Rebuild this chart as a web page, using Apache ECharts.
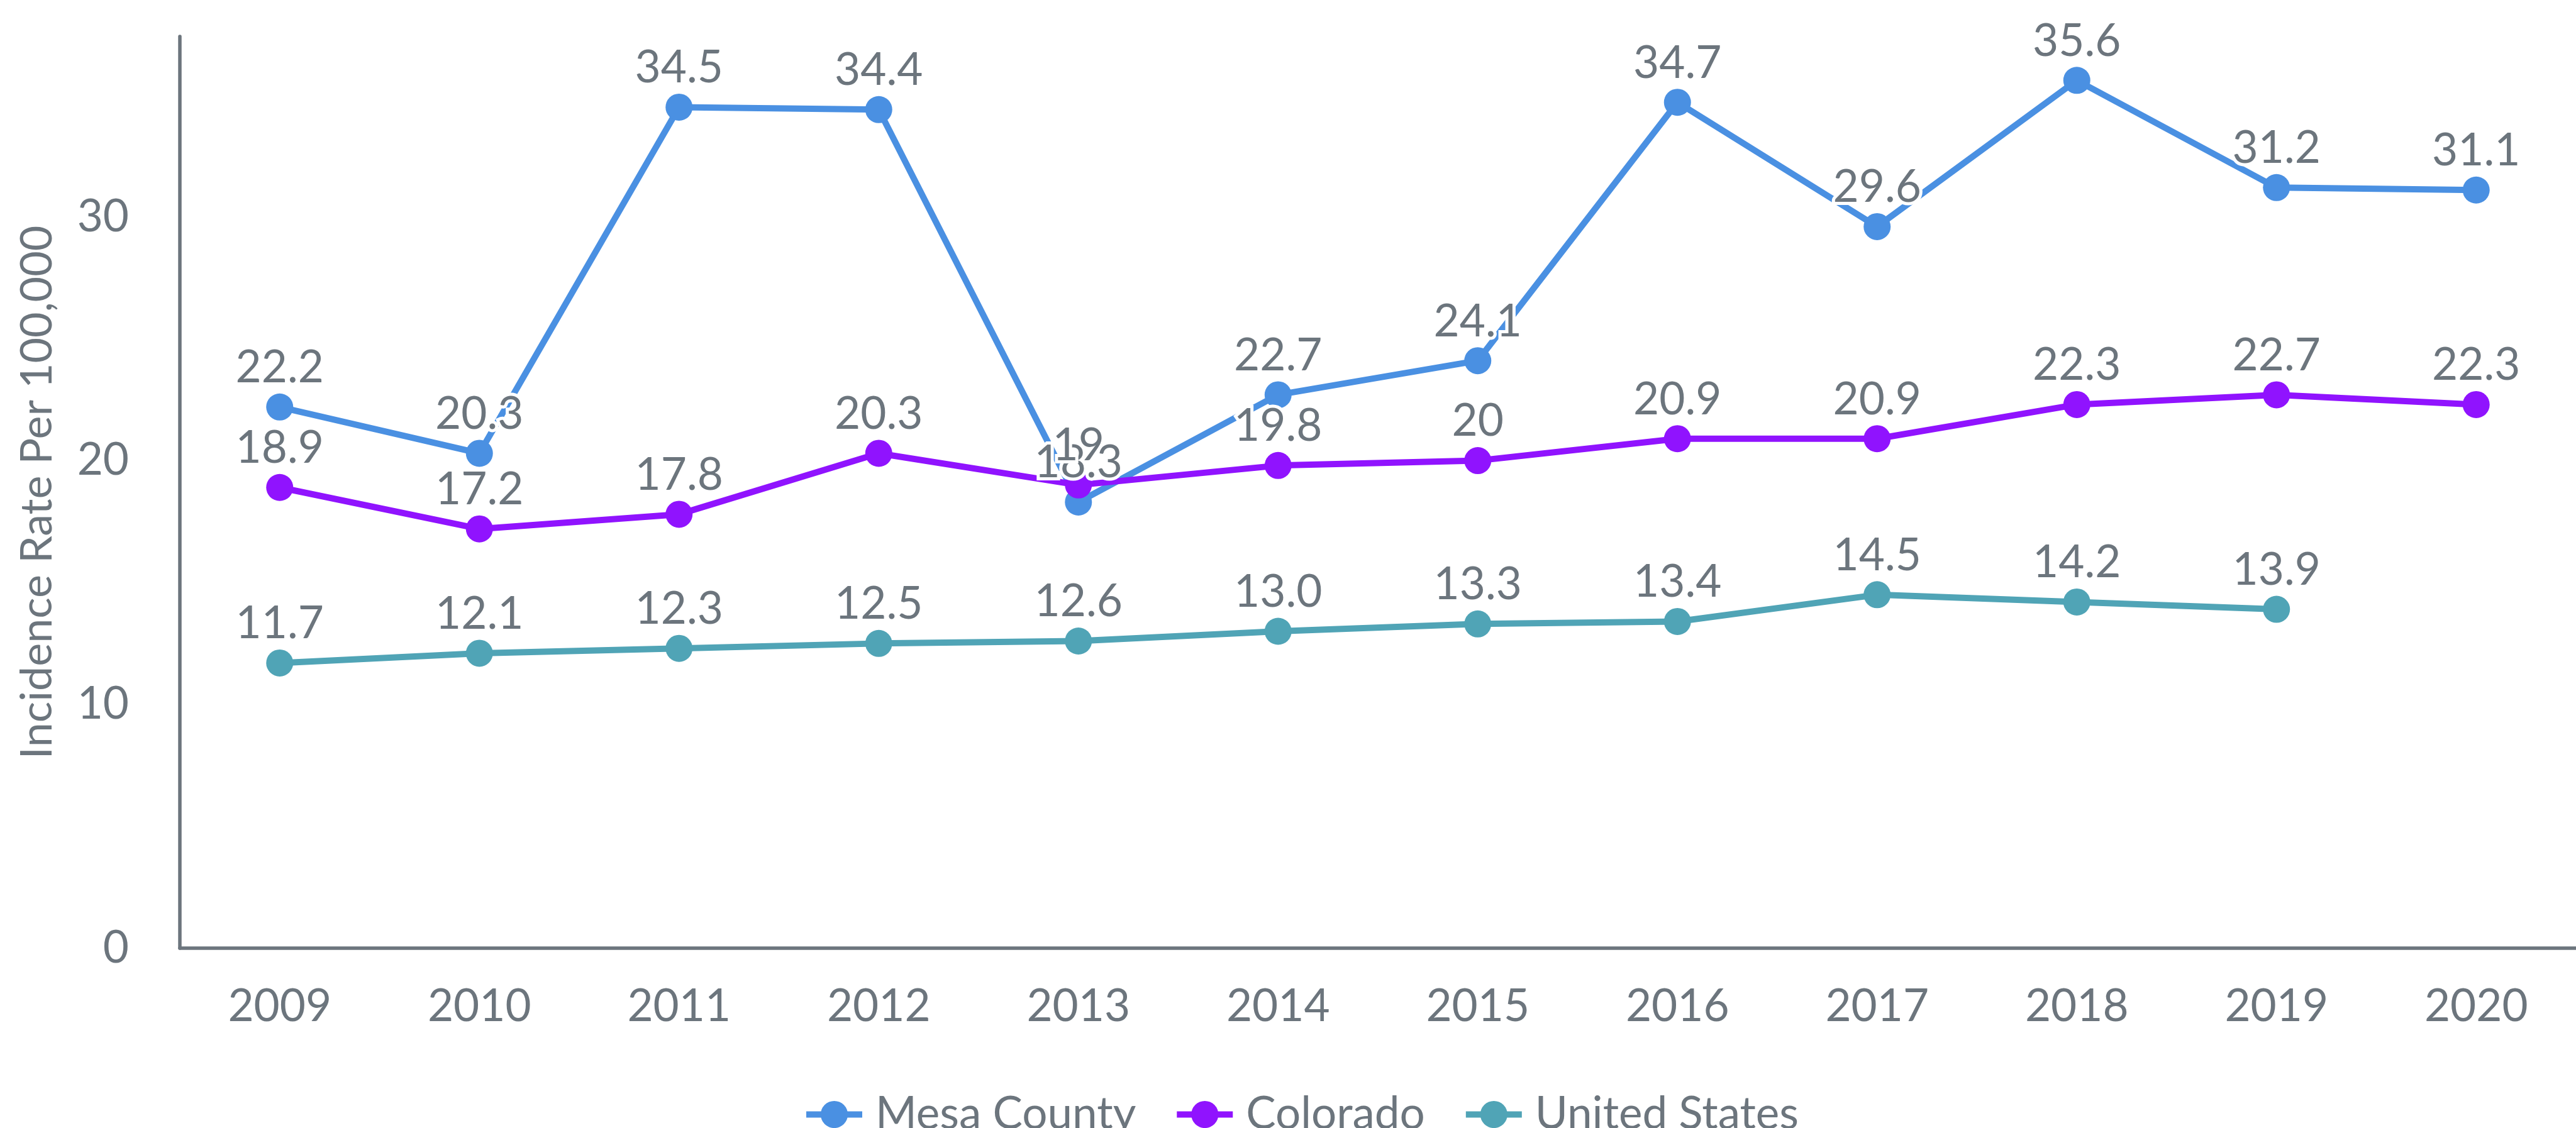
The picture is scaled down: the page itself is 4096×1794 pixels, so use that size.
<!DOCTYPE html>
<html>
<head>
<meta charset="utf-8">
<script src="https://cdn.jsdelivr.net/npm/echarts@6/dist/echarts.min.js"></script>
<style>
html,body{margin:0;padding:0;background:#fff;}
#chart{width:4096px;height:1794px;}
</style>
</head>
<body>
<div id="chart"></div>
<script>
var years = ['2009','2010','2011','2012','2013','2014','2015','2016','2017','2018','2019','2020'];
var mesaCounty = [22.2, 20.3, 34.5, 34.4, 18.3, 22.7, 24.1, 34.7, 29.6, 35.6, 31.2, 31.1];
var colorado = [18.9, 17.2, 17.8, 20.3, 19, 19.8, 20, 20.9, 20.9, 22.3, 22.7, 22.3];
var unitedStates = [11.7, 12.1, 12.3, 12.5, 12.6, 13.0, 13.3, 13.4, 14.5, 14.2, 13.9, null];
var seriesNames = ['Mesa County', 'Colorado', 'United States'];
var seriesColors = ['#4a90e2', '#9013fe', '#50a4b6'];

var textColor = '#6c757d';
var fontName = 'Lato';

function makeSeries(idx, data, fixed){
	return {
		name: seriesNames[idx],
		type: 'line',
		data: data,
		symbol: 'circle',
		symbolSize: 43,
		itemStyle: {color: seriesColors[idx]},
		lineStyle: {color: seriesColors[idx], width: 10},
		label: {
			show: true,
			position: 'top',
			distance: 5,
			color: textColor,
			fontFamily: fontName,
			fontSize: 71,
			textBorderColor: '#fff',
			textBorderWidth: 10,
			formatter: function(p){
				return fixed ? p.value.toFixed(1) : String(p.value);
			}
		}
	};
}

var chart = echarts.init(document.getElementById('chart'));
var option = {
	backgroundColor: '#fff',
	animation: false,
	textStyle: {fontFamily: fontName},
	legend: {
		data: seriesNames,
		left: 1272,
		top: 1732,
		itemWidth: 89,
		itemHeight: 54,
		itemGap: 60,
		lineStyle: {width: 10},
		textStyle: {color: textColor, fontSize: 71, fontFamily: fontName, padding: [0, 0, 0, 16]}
	},
	grid: {
		left: 286,
		top: 58,
		width: 3844,
		height: 1450
	},
	xAxis: {
		type: 'category',
		data: years,
		boundaryGap: true,
		axisLine: {lineStyle: {color: textColor, width: 5.5}},
		axisTick: {show: false},
		axisLabel: {color: textColor, fontSize: 71, fontFamily: fontName, margin: 58}
	},
	yAxis: {
		type: 'value',
		min: 0,
		max: 37.4,
		interval: 10,
		name: 'Incidence Rate Per 100,000',
		nameLocation: 'middle',
		nameGap: 192,
		nameTextStyle: {color: textColor, fontSize: 70, fontFamily: fontName},
		axisLine: {show: true, lineStyle: {color: textColor, width: 5.5}},
		axisTick: {show: false},
		splitLine: {show: false},
		axisLabel: {color: textColor, fontSize: 71, fontFamily: fontName, margin: 81, showMaxLabel: false}
	},
	series: [
		makeSeries(0, mesaCounty, false),
		makeSeries(1, colorado, false),
		makeSeries(2, unitedStates, true)
	]
};
chart.setOption(option);
</script>
</body>
</html>
